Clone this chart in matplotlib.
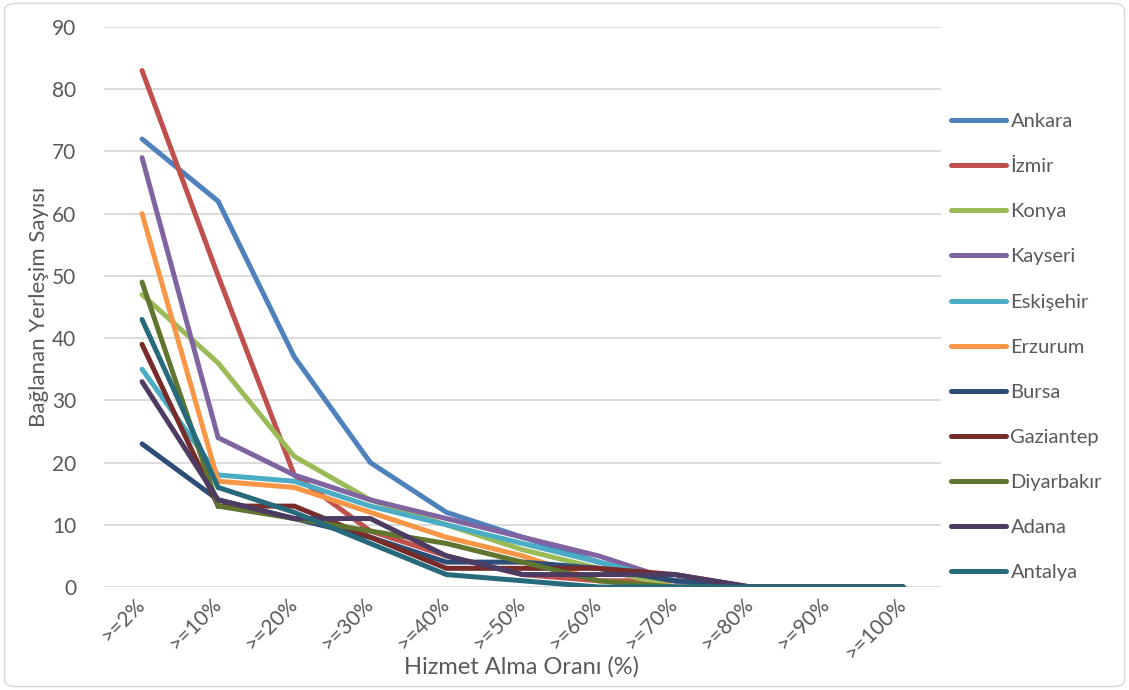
import matplotlib.pyplot as plt
from matplotlib.patches import FancyBboxPatch

# kategoriler ve seriler
categories = [">=2%", ">=10%", ">=20%", ">=30%", ">=40%", ">=50%",
              ">=60%", ">=70%", ">=80%", ">=90%", ">=100%"]

ankara = [72, 62, 37, 20, 12, 8, 4, 1, 0, 0, 0]
izmir = [83, 50, 18, 9, 5, 2, 1, 1, 0, 0, 0]
konya = [47, 36, 21, 14, 10, 6, 3, 0, 0, 0, 0]
kayseri = [69, 24, 18, 14, 11, 8, 5, 1, 0, 0, 0]
eskisehir = [35, 18, 17, 13, 10, 7, 4, 1, 0, 0, 0]
erzurum = [60, 17, 16, 12, 8, 5, 1, 0, 0, 0, 0]
bursa = [23, 14, 11, 8, 4, 4, 3, 1, 0, 0, 0]
gaziantep = [39, 13, 13, 8, 3, 3, 3, 2, 0, 0, 0]
diyarbakir = [49, 13, 11, 9, 7, 4, 1, 0, 0, 0, 0]
adana = [33, 14, 11, 11, 5, 2, 2, 2, 0, 0, 0]
antalya = [43, 16, 12, 7, 2, 1, 0, 0, 0, 0, 0]

names = ["Ankara", "İzmir", "Konya", "Kayseri", "Eskişehir", "Erzurum",
         "Bursa", "Gaziantep", "Diyarbakır", "Adana", "Antalya"]
series = [ankara, izmir, konya, kayseri, eskisehir, erzurum,
          bursa, gaziantep, diyarbakir, adana, antalya]
colors = ["#4F81BD", "#C0504D", "#9BBB59", "#8064A2", "#4BACC6", "#F79646",
          "#2C4D75", "#772C2A", "#5F7530", "#4D3B62", "#276A7C"]

plt.rcParams['font.family'] = ['Lato', 'DejaVu Sans']
txt = "#595959"
fs = 15

fig = plt.figure(figsize=(11.29, 6.9), dpi=100)
ax = fig.add_axes([104 / 1129, 103 / 690, (941 - 104) / 1129, 560 / 690])

x = list(range(len(categories)))
for name, vals, c in zip(names, series, colors):
    ax.plot(x, vals, color=c, lw=3.6, label=name, solid_capstyle='round',
            solid_joinstyle='miter')

ax.set_xlim(-0.5, len(categories) - 0.5)
ax.set_ylim(0, 90)
ax.set_yticks(range(0, 91, 10))
ax.yaxis.grid(True, color="#D9D9D9", lw=1.3)
ax.set_axisbelow(True)
for s in ax.spines.values():
    s.set_visible(False)
ax.tick_params(length=0, labelsize=fs, colors=txt)
ax.tick_params(axis='y', pad=20)
ax.set_xticks(x)
ax.set_xticklabels(categories, rotation=45, ha='right', va='center',
                   rotation_mode='anchor')
ax.tick_params(axis='x', pad=10)

ax.set_ylabel("Bağlanan Yerleşim Sayısı", fontsize=fs + 1, color=txt,
              labelpad=2)
fig.text(522 / 1129, 1 - 667 / 690, "Hizmet Alma Oranı (%)", fontsize=fs + 2,
         color=txt, ha='center', va='center')

handles, labels = ax.get_legend_handles_labels()
leg = fig.legend(handles, labels, loc='upper left',
                 bbox_to_anchor=(943 / 1129, 1 - 105 / 690), frameon=False,
                 fontsize=fs - 0.5, labelcolor=txt, handlelength=2.75,
                 handletextpad=0.2, labelspacing=1.39, borderaxespad=0)
for h in leg.get_lines():
    h.set_linewidth(3.6)

border = FancyBboxPatch((0.004, 0.005), 0.992, 0.99,
                        boxstyle="round,pad=0,rounding_size=0.01",
                        transform=fig.transFigure, fill=False,
                        ec="#D9D9D9", lw=1)
fig.patches.append(border)

fig.savefig("out.png", dpi=100)
